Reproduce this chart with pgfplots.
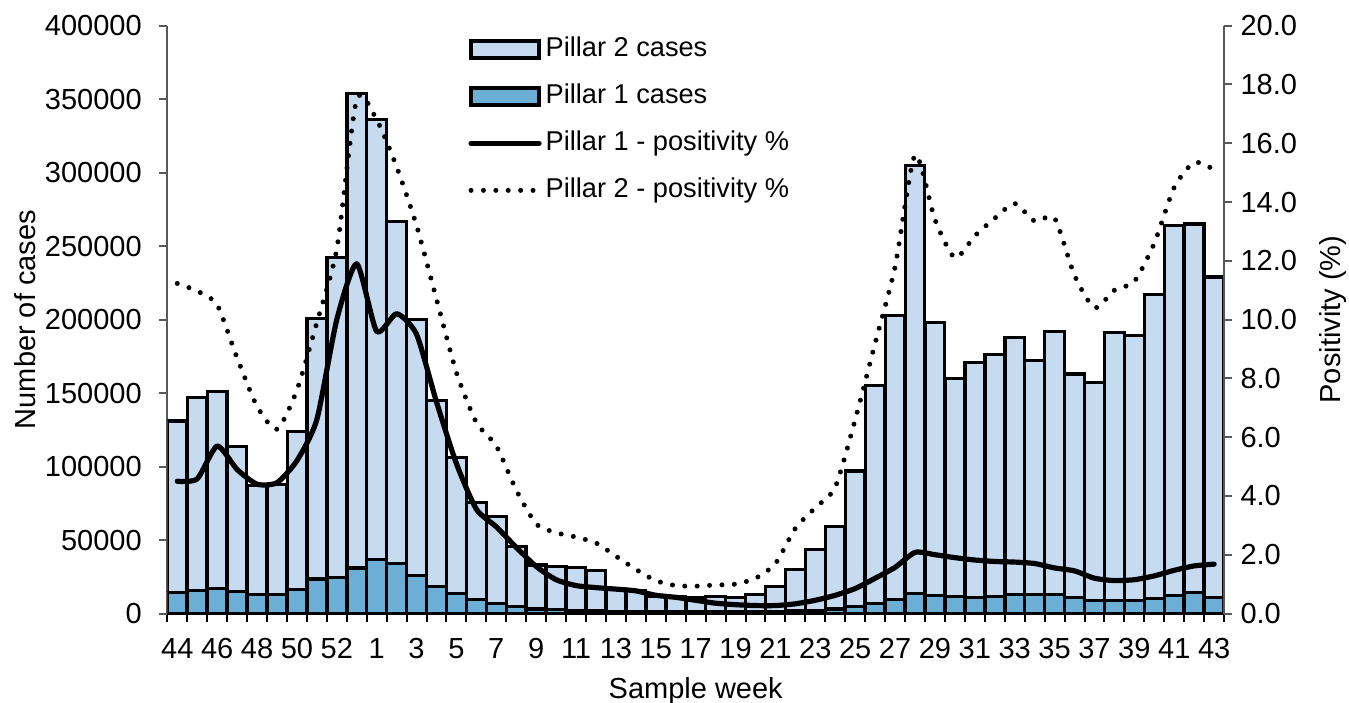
\documentclass[border=0pt]{standalone}
\usepackage{fontspec}
\setmainfont{Liberation Sans}
\usepackage{pgfplots}
\pgfplotsset{compat=1.18}
\usepackage{pgfplotstable}

\definecolor{pone}{RGB}{107,174,214}
\definecolor{ptwo}{RGB}{198,219,239}
\definecolor{axgray}{RGB}{89,89,89}

\pgfplotstableread{
idx week p1 p2 pos1 pos2
0 44 14500 116500 4.50 11.23
1 45 15500 131500 4.58 10.97
2 46 17000 134000 5.70 10.50
3 47 15000 98500 4.90 8.70
4 48 13000 74000 4.40 7.05
5 49 13000 75000 4.45 6.27
6 50 16500 107500 5.20 7.60
7 51 23500 177500 6.60 9.90
8 52 24500 217500 10.00 12.40
9 53 31000 323000 11.90 17.50
10 1 37000 299000 9.60 16.80
11 2 34000 233000 10.20 15.20
12 3 26000 174000 9.50 13.20
13 4 18500 126500 7.20 10.70
14 5 13500 92500 5.10 8.20
15 6 9500 66000 3.55 6.50
16 7 7000 59000 2.95 5.70
17 8 4500 41000 2.25 4.20
18 9 3000 30000 1.60 3.05
19 10 2500 29500 1.15 2.75
20 11 2000 29500 0.95 2.60
21 12 1800 27700 0.88 2.40
22 13 1500 15000 0.83 1.95
23 14 1300 14200 0.77 1.50
24 15 1200 10300 0.62 1.12
25 16 1000 10500 0.55 0.95
26 17 1000 9500 0.45 0.93
27 18 1000 10500 0.35 0.97
28 19 1000 10000 0.30 1.00
29 20 1200 11800 0.27 1.20
30 21 1500 17000 0.27 1.70
31 22 1800 28200 0.33 2.90
32 23 2300 41200 0.45 3.60
33 24 3000 56000 0.62 4.30
34 25 4500 92500 0.85 6.60
35 26 7000 148000 1.20 9.20
36 27 9500 193500 1.57 11.80
37 28 13500 291500 2.08 15.60
38 29 12500 185500 2.00 13.40
39 30 11500 148500 1.90 12.10
40 31 11000 160000 1.82 12.85
41 32 11500 164500 1.77 13.45
42 33 13000 175000 1.75 13.95
43 34 13000 159000 1.70 13.35
44 35 13000 179000 1.55 13.45
45 36 11000 152000 1.45 11.50
46 37 9000 148000 1.20 10.40
47 38 9000 182000 1.12 11.00
48 39 9000 180000 1.15 11.30
49 40 10000 207000 1.28 12.60
50 41 12000 252000 1.47 14.50
51 42 14500 250500 1.62 15.35
52 43 11000 218000 1.68 15.10
}\datatable

\pgfplotsset{
  common/.style={
    at={(0,0)}, anchor=south west,
    scale only axis, width=528.4pt, height=293.9pt,
    xmin=-0.5, xmax=52.5,
    tick align=outside,
    /pgf/number format/assume math mode=true,
    tick label style={font=\fontsize{14.5}{17}\selectfont},
    label style={font=\fontsize{14.5}{17}\selectfont},
    axis line style={line width=1pt},
    tick style={line width=1pt},
  }
}

\begin{document}
\begin{tikzpicture}
\begin{axis}[common,
  ymin=0, ymax=400000,
  ybar stacked, bar width=9.8pt,
  axis y line*=left, axis x line*=bottom,
  y axis line style={axgray},
  x axis line style={black},
  ytick={0,50000,...,400000},
  scaled y ticks=false,
  yticklabel style={/pgf/number format/fixed, /pgf/number format/1000 sep={}, anchor=east, inner sep=0pt, xshift=-8.6pt},
  ytick style={axgray},
  major tick length=4pt, minor tick length=4pt,
  xtick={0,2,...,52},
  xticklabels={44,46,48,50,52,1,3,5,7,9,11,13,15,17,19,21,23,25,27,29,31,33,35,37,39,41,43},
  minor xtick={-0.5,0.5,...,52.5},
  major x tick style={draw=none},
  minor x tick style={black, line width=1pt},
  xticklabel style={anchor=north, inner sep=0pt, yshift=-8.2pt},
  xlabel={Sample week},
  xlabel style={at={(axis description cs:0.5,-0.1438)}, anchor=base},
  ylabel={Number of cases},
  ylabel style={at={(axis description cs:-0.1347,0.5)}, anchor=center, rotate=0},
]
\addplot[fill=pone, draw=black, line width=1.6pt] table[x=idx, y=p1]{\datatable};
\addplot[fill=ptwo, draw=black, line width=1.6pt] table[x=idx, y=p2]{\datatable};
\end{axis}

\begin{axis}[common,
  ymin=0, ymax=20,
  axis y line*=right, axis x line=none,
  y axis line style={axgray},
  ytick={0,2,...,20},
  ytick style={axgray},
  major tick length=4pt,
  yticklabel style={/pgf/number format/fixed, /pgf/number format/fixed zerofill, /pgf/number format/precision=1, anchor=west, inner sep=0pt, xshift=4pt},
  ylabel={Positivity (\%)},
  ylabel style={at={(axis description cs:1.1031,0.5)}, anchor=center, rotate=0},
  legend cell align=left,
  legend image code/.code={\draw[#1] (0pt,0pt) -- (34pt,0pt);},
  legend style={draw=none, fill=none,
    at={(axis description cs:0.2789,0.9893)}, anchor=north west,
    font=\fontsize{13.6}{16}\selectfont,
    nodes={inner sep=0pt, text height=10pt, text depth=3pt},
    row sep=10.5pt,
    /tikz/every odd column/.append style={column sep=2pt}},
]
\addlegendimage{legend image code/.code={\draw[fill=ptwo, draw=black, line width=1.7pt] (0pt,-4.25pt) rectangle (34pt,4.25pt);}}
\addlegendentry{Pillar 2 cases}
\addlegendimage{legend image code/.code={\draw[fill=pone, draw=black, line width=1.7pt] (0pt,-4.25pt) rectangle (34pt,4.25pt);}}
\addlegendentry{Pillar 1 cases}
\addplot[black, line width=2.6pt, smooth, tension=0.38, line cap=round, line join=round] table[x=idx, y=pos1]{\datatable};
\addlegendentry{Pillar 1 - positivity \%}
\addplot[black, line width=2.5pt, smooth, tension=0.4, line cap=round, dash pattern=on 0pt off 6.2pt] table[x=idx, y=pos2]{\datatable};
\addlegendentry{Pillar 2 - positivity \%}
\end{axis}
\pgfresetboundingbox
\path (-83.65pt,-44.25pt) rectangle (590.85pt,306.75pt);
\end{tikzpicture}
\end{document}
